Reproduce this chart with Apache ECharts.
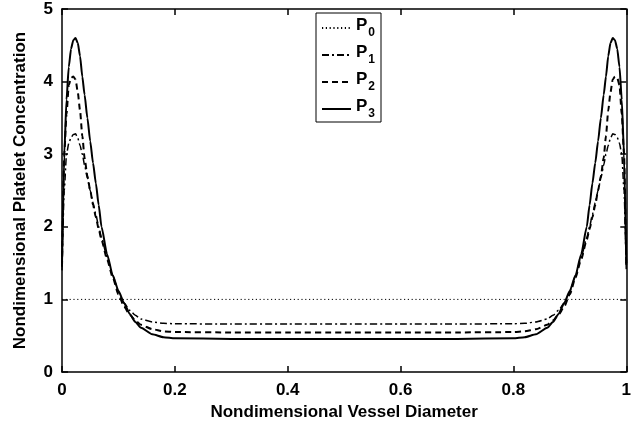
<!DOCTYPE html>
<html>
<head>
<meta charset="utf-8">
<script src="https://cdn.jsdelivr.net/npm/echarts@6/dist/echarts.min.js"></script>
<style>html,body{margin:0;padding:0;background:#fff;}#c{width:634px;height:431px;}</style>
</head>
<body>
<div id="c"></div>
<script>
// Nondimensional vessel diameter positions
const xs = [0, 0.004, 0.008, 0.012, 0.016, 0.02, 0.024, 0.028, 0.032, 0.036, 0.04, 0.045, 0.05, 0.055, 0.06, 0.065, 0.07, 0.08, 0.09, 0.1, 0.11, 0.12, 0.13, 0.14, 0.16, 0.18, 0.2,
  0.3, 0.4, 0.5, 0.6, 0.7,
  0.8, 0.82, 0.84, 0.86, 0.87, 0.88, 0.89, 0.9, 0.91, 0.92, 0.93, 0.935, 0.94, 0.945, 0.95, 0.955, 0.96, 0.964, 0.968, 0.972, 0.976, 0.98, 0.984, 0.988, 0.992, 0.996, 1];

const p0X = [0, 1];
const p0Y = [1, 1];

const p1 = [1.4, 2.5, 3.0, 3.15, 3.23, 3.27, 3.28, 3.22, 3.12, 3.0, 2.85, 2.67, 2.5, 2.33, 2.17, 2.0, 1.85, 1.58, 1.33, 1.1, 0.95, 0.85, 0.78, 0.73, 0.69, 0.67, 0.665,
  0.66, 0.66, 0.66, 0.66, 0.66,
  0.665, 0.67, 0.69, 0.73, 0.78, 0.85, 0.95, 1.1, 1.33, 1.58, 1.85, 2.0, 2.17, 2.33, 2.5, 2.67, 2.85, 3.0, 3.12, 3.22, 3.28, 3.27, 3.23, 3.15, 3.0, 2.5, 1.4];

const p2 = [1.45, 3.0, 3.55, 3.95, 4.05, 4.07, 4.03, 3.85, 3.6, 3.25, 2.95, 2.7, 2.5, 2.3, 2.13, 1.97, 1.82, 1.55, 1.3, 1.07, 0.9, 0.79, 0.71, 0.65, 0.59, 0.56, 0.55,
  0.545, 0.545, 0.545, 0.545, 0.545,
  0.55, 0.56, 0.59, 0.65, 0.71, 0.79, 0.9, 1.07, 1.3, 1.55, 1.82, 1.97, 2.13, 2.3, 2.5, 2.7, 2.95, 3.25, 3.6, 3.85, 4.03, 4.07, 4.05, 3.95, 3.55, 3.0, 1.45];

const p3 = [1.5, 3.0, 3.75, 4.2, 4.45, 4.57, 4.6, 4.53, 4.35, 4.07, 3.82, 3.5, 3.18, 2.88, 2.6, 2.3, 2.0, 1.62, 1.33, 1.12, 0.95, 0.8, 0.69, 0.61, 0.52, 0.48, 0.465,
  0.455, 0.455, 0.455, 0.455, 0.455,
  0.465, 0.48, 0.52, 0.61, 0.69, 0.8, 0.95, 1.12, 1.33, 1.62, 2.0, 2.3, 2.6, 2.88, 3.18, 3.5, 3.82, 4.07, 4.35, 4.53, 4.6, 4.57, 4.45, 4.2, 3.75, 3.0, 1.5];

const seriesNames = ['P0', 'P1', 'P2', 'P3'];
const subscripts = ['0', '1', '2', '3'];

const xTitle = 'Nondimensional Vessel Diameter';
const yTitle = 'Nondimensional Platelet Concentration';

function pairs(x, y) { return x.map((v, i) => [v, y[i]]); }

const FONT = '"Liberation Sans", Arial, Helvetica, sans-serif';
const chart = echarts.init(document.getElementById('c'), null, {renderer: 'canvas'});

const axisCommon = {
  axisLine: {show: true, onZero: false, lineStyle: {color: '#000', width: 1.5}},
  axisTick: {show: true, inside: true, length: 6, lineStyle: {color: '#000', width: 1.5}},
  splitLine: {show: false}
};

chart.setOption({
  animation: false,
  backgroundColor: '#fff',
  grid: {left: 62, right: 1, top: 9, bottom: 59, containLabel: false},
  xAxis: [
    Object.assign({
      type: 'value', min: 0, max: 1, interval: 0.2, position: 'bottom',
      name: xTitle, nameLocation: 'middle', nameGap: 32,
      nameTextStyle: {fontFamily: FONT, fontWeight: 'bold', fontSize: 17, color: '#000'},
      axisLabel: {fontFamily: FONT, fontWeight: 'bold', fontSize: 17, color: '#000', margin: 10}
    }, axisCommon),
    Object.assign({
      type: 'value', min: 0, max: 1, interval: 0.2, position: 'top',
      axisLabel: {show: false}
    }, axisCommon)
  ],
  yAxis: [
    Object.assign({
      type: 'value', min: 0, max: 5, interval: 1, position: 'left',
      name: yTitle, nameLocation: 'middle', nameGap: 33,
      nameTextStyle: {fontFamily: FONT, fontWeight: 'bold', fontSize: 17, color: '#000'},
      axisLabel: {fontFamily: FONT, fontWeight: 'bold', fontSize: 17, color: '#000', margin: 9}
    }, axisCommon),
    Object.assign({
      type: 'value', min: 0, max: 5, interval: 1, position: 'right',
      axisLabel: {show: false}
    }, axisCommon)
  ],
  legend: {
    orient: 'vertical',
    left: 316, top: 13,
    padding: [4, 6, 2, 5],
    itemGap: 5,
    itemWidth: 29, itemHeight: 14,
    backgroundColor: '#fff',
    borderColor: '#000', borderWidth: 1,
    data: seriesNames,
    itemStyle: {color: 'transparent', borderColor: 'transparent', borderWidth: 0},
    formatter: function (name) {
      const i = seriesNames.indexOf(name);
      return '{p|P}{s|' + subscripts[i] + '}';
    },
    textStyle: {
      fontFamily: FONT, fontWeight: 'bold', color: '#000',
      rich: {
        p: {fontFamily: FONT, fontWeight: 'bold', fontSize: 17, color: '#000', lineHeight: 22, verticalAlign: 'top'},
        s: {fontFamily: FONT, fontWeight: 'bold', fontSize: 12, color: '#000', lineHeight: 22, verticalAlign: 'bottom', padding: [10, 0, 0, 1]}
      }
    }
  },
  series: [
    {name: 'P0', type: 'line', data: pairs(p0X, p0Y), showSymbol: false, symbol: 'none',
      lineStyle: {color: '#000', width: 1, type: [1.2, 2.6]}, itemStyle: {color: '#000'}},
    {name: 'P1', type: 'line', data: pairs(xs, p1), showSymbol: false, symbol: 'none', smooth: 0.2, smoothMonotone: 'x',
      lineStyle: {color: '#000', width: 1.5, type: [7, 3, 2, 3]}, itemStyle: {color: '#000'}},
    {name: 'P2', type: 'line', data: pairs(xs, p2), showSymbol: false, symbol: 'none', smooth: 0.2, smoothMonotone: 'x',
      lineStyle: {color: '#000', width: 2, type: [6, 4]}, itemStyle: {color: '#000'}},
    {name: 'P3', type: 'line', data: pairs(xs, p3), showSymbol: false, symbol: 'none', smooth: 0.2, smoothMonotone: 'x',
      lineStyle: {color: '#000', width: 2, type: 'solid'}, itemStyle: {color: '#000'}}
  ]
});
</script>
</body>
</html>
